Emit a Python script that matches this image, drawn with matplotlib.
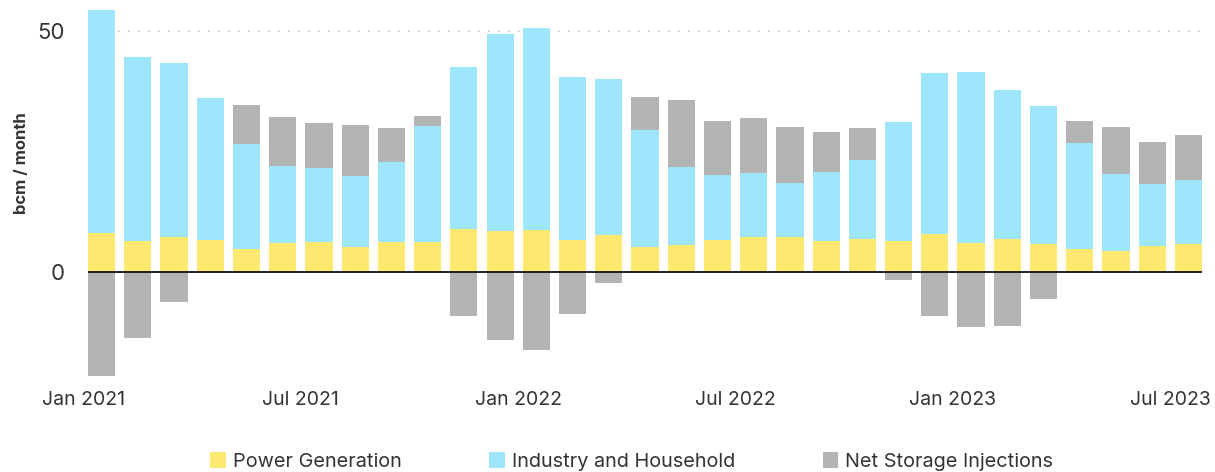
import matplotlib
matplotlib.use("Agg")
import matplotlib.pyplot as plt
import numpy as np

# Monthly values, Jan 2021 .. Jul 2023 (bcm / month)
months = ["Jan 2021", "Feb 2021", "Mar 2021", "Apr 2021", "May 2021", "Jun 2021",
          "Jul 2021", "Aug 2021", "Sep 2021", "Oct 2021", "Nov 2021", "Dec 2021",
          "Jan 2022", "Feb 2022", "Mar 2022", "Apr 2022", "May 2022", "Jun 2022",
          "Jul 2022", "Aug 2022", "Sep 2022", "Oct 2022", "Nov 2022", "Dec 2022",
          "Jan 2023", "Feb 2023", "Mar 2023", "Apr 2023", "May 2023", "Jun 2023",
          "Jul 2023"]

power = [8.0, 6.4, 7.2, 6.6, 4.7, 5.9, 6.2, 5.0, 6.2, 6.2, 8.9, 8.4,
         8.7, 6.6, 7.6, 5.1, 5.5, 6.6, 7.2, 7.1, 6.4, 6.8, 6.4, 7.8,
         5.9, 6.8, 5.7, 4.7, 4.3, 5.3, 5.7]

industry = [46.3, 38.1, 36.1, 29.4, 21.8, 16.0, 15.3, 14.8, 16.6, 24.0, 33.6, 40.9,
            41.9, 33.8, 32.4, 24.3, 16.2, 13.5, 13.3, 11.3, 14.3, 16.4, 24.7, 33.4,
            35.5, 30.9, 28.7, 22.0, 16.0, 12.9, 13.3]

storage = [-21.6, -13.7, -6.3, 0.0, 8.1, 10.2, 9.3, 10.6, 7.0, 2.1, -9.3, -14.2,
           -16.3, -8.7, -2.4, 6.8, 13.9, 11.2, 11.4, 11.6, 8.3, 6.6, -1.7, -9.3,
           -11.4, -11.2, -5.6, 4.6, 9.7, 8.7, 9.4]

tick_labels = ["Jan 2021", "Jul 2021", "Jan 2022", "Jul 2022", "Jan 2023", "Jul 2023"]

c_power = "#FDE870"
c_ind = "#9DE6FB"
c_sto = "#B3B3B3"
txt = "#333333"

plt.rcParams["font.family"] = ["Inter", "DejaVu Sans"]

x = np.arange(len(months))
p = np.array(power)
ind = np.array(industry)
s = np.array(storage)
w = 0.75

fig = plt.figure(figsize=(12.15, 4.72), dpi=100)
ax = fig.add_axes([81.7 / 1215, 0.199, 1120.3 / 1215, 0.784])

ax.bar(x, p, w, color=c_power, label="Power Generation", zorder=2)
ax.bar(x, ind, w, bottom=p, color=c_ind, label="Industry and Household", zorder=2)
ax.bar(x, s, w, bottom=np.where(s > 0, p + ind, 0), color=c_sto,
       label="Net Storage Injections", zorder=2)

ax.hlines(50, -w / 2, len(x) - 1 + w / 2, colors="#c8c8c8", linestyles=(0, (1, 5)),
          linewidth=1.2, zorder=1)
ax.hlines(0, -w / 2, len(x) - 1 + w / 2, colors="#111111", linewidth=1.3, zorder=3)

ax.set_xlim(-0.55, len(x) - 1 + w / 2)
ax.set_ylim(-22.1, 54.7)

# ticks sit at the start of each month
ticks = [months.index(t) - 0.5 for t in tick_labels]
ax.set_xticks(ticks)
ax.set_xticklabels(tick_labels, fontsize=14, color=txt)
ax.set_yticks([0, 50])
ax.set_yticklabels(["0", "50"], fontsize=16, color=txt)
ax.tick_params(axis="both", length=0)
ax.tick_params(axis="x", pad=9)
ax.tick_params(axis="y", pad=12)

ax.set_ylabel("bcm / month", fontsize=12, fontweight="bold", color=txt)
ax.yaxis.set_label_coords(-0.047, 0.582)

for sp in ax.spines.values():
    sp.set_visible(False)

leg = fig.legend(loc="lower center", bbox_to_anchor=(0.52, -0.035), ncol=3,
                 frameon=False, fontsize=14.3, handlelength=0.8, handleheight=0.9,
                 handletextpad=0.35, columnspacing=4.4)
for t in leg.get_texts():
    t.set_color(txt)

fig.savefig("out.png", dpi=100)
